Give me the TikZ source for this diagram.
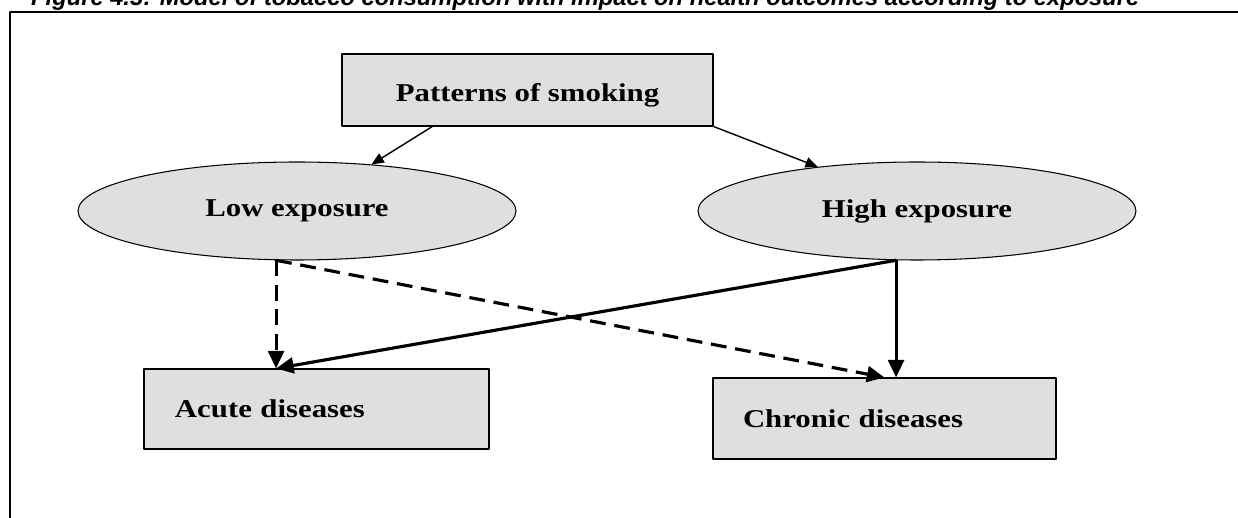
\documentclass[tikz,border=0pt]{standalone}
\usepackage{fontspec}
\setmainfont{Liberation Serif}
\newfontfamily\boxfont[FakeStretch=1.2]{Liberation Serif}
\newfontfamily\titlefont{Liberation Sans}
\usetikzlibrary{arrows.meta,shapes.geometric}

\begin{document}
\begin{tikzpicture} [x=0.2mm, y=-0.2mm, line join=round, >={Triangle[length=7pt,width=6pt]},
		box/.style={draw, fill=gray!25, line width=0.6pt, font=\boxfont\fontsize{14.6}{16}\selectfont\bfseries},
		oval/.style={box, ellipse, inner sep=0pt, minimum width=8.76cm, minimum height=1.96cm},
		thick arrow/.style={->, line width=1.8pt, >={Triangle[length=10pt,width=9pt]}}]
				\useasboundingbox (0,0) rectangle (1238,518);
				\node[anchor=base west, font=\titlefont\fontsize{13.5}{15}\selectfont\bfseries\itshape] (title) at (25,6) {Figure 4.3: Model of tobacco consumption with impact on health outcomes according to exposure};
				\draw[line width=1.2pt] (1238,12) -- (10,12) -- (10,518);
				\node[box, minimum width=7.42cm, minimum height=1.44cm, text height=16pt] (pat) at (527.5,90) {Patterns of smoking};
				\node[oval] (low) at (297,211) {Low exposure};
				\node[oval] (high) at (917,211) {High exposure};
				\node[box, text width=5.66cm, inner xsep=0.62cm, minimum height=1.6cm, align=left] (acute) at (316.5,409) {Acute diseases};
				\node[box, text width=5.66cm, inner xsep=0.6cm, minimum height=1.62cm, align=left] (chronic) at (884.5,418.5) {Chronic diseases};
				\draw[->, line width=0.8pt] (pat.201) -- (low.32);
				\draw[->, line width=0.8pt] (pat.south east) -- (high.156);
				\draw[thick arrow, dash pattern=on 9pt off 5pt] (low.247) -- (low.247 |- acute.north);
				\draw[thick arrow, dash pattern=on 9pt off 5pt] (low.247) -- (chronic.north);
				\draw[thick arrow] (high.247) -- (low.247 |- acute.north);
				\draw[thick arrow] (high.247) -- (high.247 |- chronic.north);
			\end{tikzpicture}
\end{document}
